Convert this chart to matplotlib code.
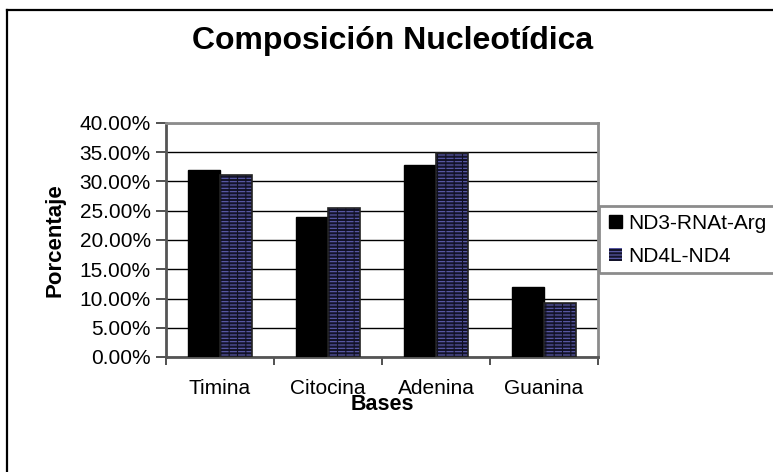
import matplotlib
matplotlib.use("Agg")
import matplotlib.pyplot as plt
from matplotlib.patches import Rectangle
from matplotlib.lines import Line2D
from matplotlib.ticker import FuncFormatter, MultipleLocator
import numpy as np

categories = ["Timina", "Citocina", "Adenina", "Guanina"]
serie_nd3 = [31.9, 23.9, 32.9, 11.9]
serie_nd4 = [31.1, 25.4, 34.8, 9.2]
series_names = ["ND3-RNAt-Arg", "ND4L-ND4"]

W, H = 773, 472
plt.rcParams["font.family"] = ["Liberation Sans", "DejaVu Sans"]
plt.rcParams["hatch.linewidth"] = 0.8

fig = plt.figure(figsize=(W / 100, H / 100), dpi=100)
ax = fig.add_axes([166 / W, 1 - 357 / H, 432 / W, 234 / H])

x = np.arange(len(categories))
bw = 0.295
ax.bar(x - bw / 2, serie_nd3, bw, color="black", edgecolor="black",
       linewidth=1.0, label=series_names[0], zorder=3)
ax.bar(x + bw / 2, serie_nd4, bw, color="#13132a", edgecolor="#5f5fb0",
       hatch="-----", linewidth=0, label=series_names[1], zorder=3)
ax.bar(x + bw / 2, serie_nd4, bw, color="none", edgecolor="#101020",
       hatch="||", linewidth=0, zorder=3.1)
ax.bar(x + bw / 2, serie_nd4, bw, color="none", edgecolor="#222222",
       linewidth=1.2, zorder=3.2)

ax.set_xlim(-0.5, len(categories) - 0.5)
ax.set_ylim(0, 40)
ax.yaxis.set_major_locator(MultipleLocator(5))
ax.yaxis.set_major_formatter(FuncFormatter(lambda v, p: f"{v:.2f}%"))
ax.grid(axis="y", color="black", linewidth=1.0, zorder=0)
ax.set_axisbelow(True)

ax.set_xticks(x)
ax.set_xticklabels(categories, fontsize=15)
ax.set_xticks(np.arange(-0.5, len(categories) - 0.4, 1.0), minor=True)
ax.tick_params(axis="x", which="major", length=0, pad=16)
ax.tick_params(axis="x", which="minor", length=6, width=1.2, color="#333333",
               direction="out")
ax.tick_params(axis="y", length=7, width=1.2, color="#333333", labelsize=15,
               pad=4)

for side in ["top", "right"]:
    ax.spines[side].set_color("#8c8c8c")
    ax.spines[side].set_linewidth(2)
ax.spines["left"].set_color("#555555")
ax.spines["left"].set_linewidth(2)
ax.spines["bottom"].set_color("#555555")
ax.spines["bottom"].set_linewidth(2)

ax.set_xlabel("Bases", fontsize=15.5, fontweight="bold", labelpad=-3)
ax.set_ylabel("Porcentaje", fontsize=16, fontweight="bold", labelpad=10)

fig.text(393 / W, 1 - 41 / H, "Composición Nucleotídica", fontsize=23,
         fontweight="bold", ha="center", va="center")

# Chart area frame (top and left edges)
fig.add_artist(Line2D([7 / W, 7 / W], [0, 1 - 10 / H], transform=fig.transFigure,
                      color="black", linewidth=1.6))
fig.add_artist(Line2D([7 / W, 1], [1 - 10 / H, 1 - 10 / H],
                      transform=fig.transFigure, color="black", linewidth=1.6))

# Legend frame, running past the right edge
fig.add_artist(Rectangle((599 / W, 1 - 273 / H), 250 / W, 67 / H,
                         transform=fig.transFigure, fill=False,
                         edgecolor="#8c8c8c", linewidth=2))
handles, labels = ax.get_legend_handles_labels()
fig.legend(handles, labels, loc="upper left",
           bbox_to_anchor=(609 / W, 1 - 214 / H), frameon=False,
           fontsize=15, handlelength=0.6, handleheight=0.6,
           handletextpad=0.3, labelspacing=0.65, borderpad=0,
           borderaxespad=0)

fig.savefig("out.png", dpi=100)
